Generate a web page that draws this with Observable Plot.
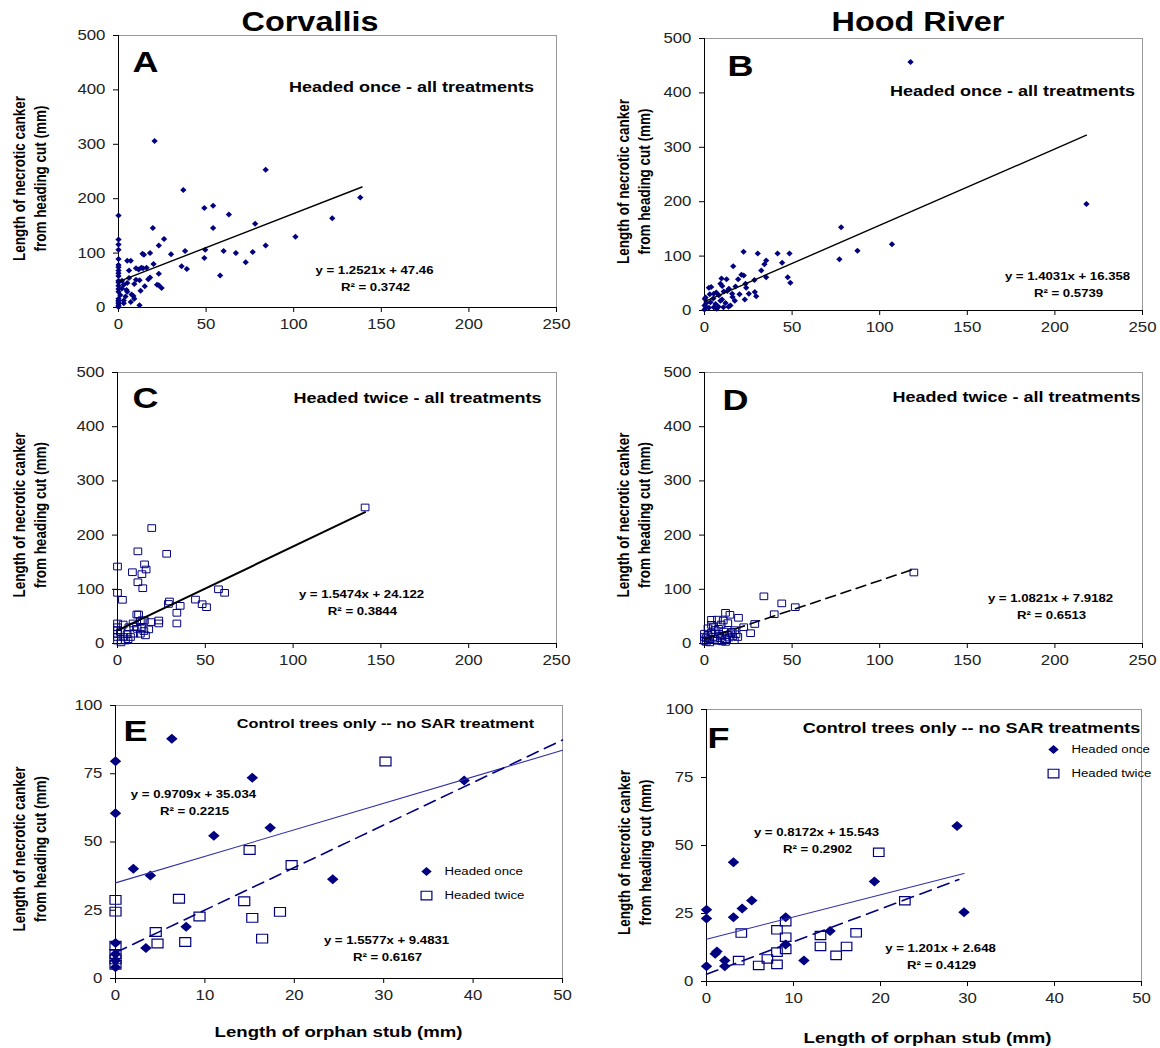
<!DOCTYPE html>
<html><head><meta charset="utf-8">
<script src="https://cdn.jsdelivr.net/npm/d3@7"></script>
<script src="https://cdn.jsdelivr.net/npm/@observablehq/plot@0.6"></script>
<style>
body{margin:0;background:#fff;}
#root{position:relative;width:1160px;height:1048px;overflow:hidden;font-family:'Liberation Sans',Arial,sans-serif;}
.col{position:absolute;font-weight:bold;font-size:27px;transform:translate(-50%,-50%) scaleX(1.2);white-space:nowrap;color:#000;}
svg{position:absolute;}
</style></head><body><div id="root"></div>
<script>
// ---------- data ----------
const columnTitles = ["Corvallis", "Hood River"];
const ticks500 = [0, 100, 200, 300, 400, 500];
const ticks250 = [0, 50, 100, 150, 200, 250];
const ticks100 = [0, 25, 50, 75, 100];
const ticks50 = [0, 10, 20, 30, 40, 50];
const seriesNames = ["Headed once", "Headed twice"];

// A: Corvallis, headed once
const aOnce = [[20.6,306],[84,253],[37,216],[138,202],[49,183],[54,187],[63,171],[0,169],[122,164],[78,154],[19.6,146],[54,146],[26,126],[101,130],[0,125],[23,114],[84,114],[0,116],[0,106],[30,98],[38,104],[49.5,106],[60,104],[67,100],[76.6,102],[49,91],[72.6,83],[36,76],[39,71],[58,59],[13.7,99],[14.5,97],[18,100],[5,86],[7,86],[0,89],[20,80],[16,73],[14,72],[10,72],[11.5,70],[13,73],[6,68],[0,78],[0,74],[0,68],[0,63],[23,62],[18,55],[17,52],[10,51],[12,50],[6,54],[0,58],[0,49],[0,46],[22,42],[23,41],[24.6,36],[15,39],[9,43],[3,42],[4.6,32],[5,29],[7.5,24],[8.5,21],[12.6,31],[0,40],[0,34],[0,29],[3,13],[0,16],[0,13],[0,10],[0,7],[7,10],[12,4],[1,23],[2,49],[0,3],[0,1],[4,20],[2,35],[5,45],[3,8],[9,16]];
// B: Hood River, headed once
const bOnce = [[117.6,457],[218,196],[78,153],[107,122],[87.3,110],[77,94],[22.3,108],[30.4,105],[41.7,105],[48.5,105],[44.3,88],[35.2,92],[34.2,85],[32.4,73.5],[16.4,81.5],[21.1,65.5],[22.4,64.5],[35.2,61],[47.5,61],[49,51],[19.2,57.5],[28.5,56],[9.7,59],[12.6,57.5],[3.8,43],[2.5,42],[9.1,49],[10.1,45],[17.7,44],[23.4,49],[23.8,42],[25.3,31],[28.7,34],[29.5,26],[23,20],[13.9,40],[13,36],[15.8,31],[6.7,33],[8.2,28],[5.3,31],[0.6,24],[0.2,21],[3.4,15],[6.3,12],[9.1,18],[12,14],[14.8,9],[17.3,18],[0,9],[1,6],[2.5,5],[5.3,6],[8,7],[10.8,6],[13.7,7],[3,30],[10,20],[5,22],[11,35],[16,25],[20,30],[1,14],[7,3],[0,2]];
// C: Corvallis, headed twice
const cTwice = [[141,251],[19.5,213],[11.6,170],[28,165.5],[0,142],[15.4,146],[16.3,136.5],[8.5,131.5],[13.9,128],[11.6,113],[14.4,102],[0,93.5],[2.8,80.6],[29.6,77.5],[29,73],[57.5,100],[61,93.5],[44.4,81],[48.2,72.5],[50.7,67],[35.7,69.5],[33.8,56.6],[33.8,37],[11,53.5],[12,53.5],[23.5,42.4],[23.5,37],[19,39.5],[15.3,42],[14,43],[13,41],[0,37],[3.2,35],[8.9,37],[9.3,31],[6.5,30],[11.2,27],[14,28],[15,23],[13,18],[15.9,15],[17.8,26],[0,30],[0,24],[0,18],[0,12],[0,5.5],[1.7,21],[3.6,12],[4.5,5.5],[5.5,17],[7.4,12],[9.3,18],[2,2],[6,8]];
// D: Hood River, headed twice
const dTwice = [[119.5,131],[33.9,87],[44.1,74],[51.8,67],[39.8,54],[28.7,36],[26.3,19],[12,56.6],[14.5,53],[19.4,47.4],[4,43.7],[7.4,44],[10.7,42.4],[13.3,37.5],[4,34.4],[9.5,35],[22.4,30],[17.3,24.6],[15.8,21.5],[0,5],[1,10],[2,15],[3,8],[4,20],[5,12],[6,25],[7,5],[8,18],[9,10],[10,14],[11,22],[12,8],[13,16],[14,11],[15,19],[16,13],[18,17],[2,28],[5,30],[8,27],[0,18],[1,3],[3,2],[6,9],[10,4],[0,12],[12,3],[17,6],[19,12]];
// E: Corvallis control trees
const eOnce = [[6.3,87.8],[0,79.6],[15.3,73.5],[0,60.5],[17.3,55.2],[11,52.3],[2,40.2],[3.9,37.7],[24.3,36.4],[7.9,19],[3.4,11.2],[0,13],[0,9],[0,6.6],[0,4.1],[39,72.5]];
const eTwice = [[30.2,79.5],[15,47.1],[19.7,41.6],[0,28.8],[0,24.5],[7.1,29.2],[14.4,28.3],[18.4,24.4],[9.4,22.7],[15.3,22.2],[4.5,17],[4.7,12.8],[7.8,13.4],[16.4,14.6],[0,12],[0,9],[0,7],[0,5]];
// F: Hood River control trees
const fOnce = [[28.8,57.2],[3.1,43.8],[19.3,36.8],[5.2,29.8],[4.1,26.8],[3.1,23.6],[0,26.4],[0,23.2],[9.1,23.6],[29.6,25.5],[14.2,18.6],[9.1,13.6],[1,10.2],[1.2,11],[2.1,7.7],[2.1,5.6],[0,5.6],[11.2,7.7]];
const fTwice = [[19.8,47.5],[22.8,29.7],[9.1,22],[8.1,19],[4,17.8],[9.1,16.3],[13.1,16.9],[17.2,17.9],[13.1,12.9],[16.1,12.9],[9.1,11.8],[8.1,10.8],[14.9,9.6],[3.7,7.7],[7,8.3],[6,5.9],[8.1,6.3]];

// trendlines as printed on the chart: [slope, intercept, xStart, xEnd]
const trendA = [1.2521, 47.46, 0, 139];
const trendB = [1.4031, 16.358, 0, 218];
const trendC = [1.5474, 24.122, 0, 141];
const trendD = [1.0821, 7.9182, 0, 119.5];
const trendEOnce = [0.9709, 35.034, 0, 50];
const trendETwice = [1.5577, 9.4831, 0, 50];
const trendFOnce = [0.8172, 15.543, 0, 29.6];
const trendFTwice = [1.201, 2.648, 0, 29];

const panelLetters = ["A", "B", "C", "D", "E", "F"];
const panelTitles = ["Headed once - all treatments", "Headed once - all treatments", "Headed twice - all treatments", "Headed twice - all treatments", "Control trees only -- no SAR treatment", "Control trees only -- no SAR treatments"];
const equations = {
  A: [["y = 1.2521x + 47.46", "R² = 0.3742"]],
  B: [["y = 1.4031x + 16.358", "R² = 0.5739"]],
  C: [["y = 1.5474x + 24.122", "R² = 0.3844"]],
  D: [["y = 1.0821x + 7.9182", "R² = 0.6513"]],
  E: [["y = 0.9709x + 35.034", "R² = 0.2215"], ["y = 1.5577x + 9.4831", "R² = 0.6167"]],
  F: [["y = 0.8172x + 15.543", "R² = 0.2902"], ["y = 1.201x + 2.648", "R² = 0.4129"]]
};
const yTitle = "Length of necrotic canker\nfrom heading cut (mm)";
const xTitle = "Length of orphan stub (mm)";

// ---------- styling ----------
const NAVY = "#000080";
const FONT = "'Liberation Sans', Arial, sans-serif";
const STRETCH = 1.2;
function shape(kind, ax, ay) {
  return {draw(ctx, size) {
    const r = Math.sqrt(size / Math.PI), w = r * ax, h = r * ay;
    if (kind === "diamond") { ctx.moveTo(0, -h); ctx.lineTo(w, 0); ctx.lineTo(0, h); ctx.lineTo(-w, 0); ctx.closePath(); }
    else { ctx.moveTo(-w, -h); ctx.lineTo(w, -h); ctx.lineTo(w, h); ctx.lineTo(-w, h); ctx.closePath(); }
  }};
}
const smallDiamond = shape("diamond", 1.05, 1);
const bigDiamond = shape("diamond", 1.15, 1);
const smallSquare = shape("square", 1.1, 0.95);
const bigSquare = shape("square", 1.2, 0.95);

function trendLine(t, opts) {
  const [m, b, x0, x1] = t;
  return Plot.line([[x0, m * x0 + b], [x1, m * x1 + b]], {x: d => d[0], y: d => d[1], ...opts});
}
function label(str, dx, dy, o = {}) {
  return Plot.text([str], {text: d => d, frameAnchor: o.anchor || "top-left", dx, dy,
    textAnchor: o.textAnchor || "middle", lineAnchor: "middle", fontSize: o.size || 11,
    fontWeight: o.weight || "bold", fill: "#000", rotate: o.rotate || 0, lineHeight: o.lineHeight || 1});
}

const root = document.getElementById("root");
columnTitles.forEach((t, i) => {
  const d = document.createElement("div");
  d.className = "col"; d.textContent = t;
  d.style.left = (i === 0 ? 310 : 918) + "px"; d.style.top = "22px";
  root.appendChild(d);
});

function panel(p) {
  const mL = 120, mR = 30, mT = 15, mB = p.xTitle ? 75 : 40;
  const width = p.R - p.L + mL + mR, height = p.B - p.T + mT + mB;
  const marks = [
    Plot.frame({stroke: "#999"}),
    Plot.axisX({ticks: p.xTicks, tickSize: 5, tickPadding: 7, label: null, stroke: "#000", fill: "#222"}),
    Plot.axisY({ticks: p.yTicks, tickSize: 5, tickPadding: 8, label: null, stroke: "#000", fill: "#222"}),
    Plot.ruleX([0], {stroke: "#000"}),
    Plot.ruleY([0], {stroke: "#000"}),
    ...p.marks,
    label(panelLetters[p.i], p.letter[0], p.letter[1], {size: 30}),
    label(panelTitles[p.i], p.title[0], p.title[1], {size: p.titleSize || 15}),
    label(yTitle, p.yTitleDx, 7, {anchor: "left", size: 13.5, rotate: -90, lineHeight: 1.28}),
  ];
  const eqs = equations[panelLetters[p.i]];
  eqs.forEach((e, k) => {
    const [dx, dy] = p.eq[k];
    marks.push(label(e[0], dx, dy), label(e[1], dx + 1, dy + 17));
  });
  if (p.legend) {
    const [dx, dy] = p.legend;
    marks.push(
      Plot.dot([0], {frameAnchor: "top-left", dx, dy, r: 4.5, symbol: bigDiamond, fill: NAVY, stroke: "none"}),
      Plot.dot([0], {frameAnchor: "top-left", dx, dy: dy + 24, r: 4.5, symbol: bigSquare, fill: "none", stroke: NAVY, strokeWidth: 1.2}),
      label(seriesNames[0], dx + 18, dy, {textAnchor: "start", weight: "normal"}),
      label(seriesNames[1], dx + 18, dy + 24, {textAnchor: "start", weight: "normal"})
    );
  }
  if (p.xTitle) marks.push(label(xTitle, p.xTitle[0], p.xTitle[1], {anchor: "bottom-left", size: 15.5}));
  const svg = Plot.plot({
    width, height, marginLeft: mL, marginRight: mR, marginTop: mT, marginBottom: mB,
    x: {domain: p.xDomain}, y: {domain: p.yDomain},
    style: {fontFamily: FONT, fontSize: "14px", background: "transparent", color: "#222", overflow: "visible"},
    marks
  });
  svg.style.left = (p.L - mL) + "px";
  svg.style.top = (p.T - mT) + "px";
  root.appendChild(svg);
  return svg;
}

const X = d => d[0], Y = d => d[1];
const svgs = [
  panel({i: 0, L: 118, R: 556, T: 35, B: 307, xDomain: [0, 250], yDomain: [0, 500], xTicks: ticks250, yTicks: ticks500,
    letter: [27, 27], title: [293, 52], eq: [[256, 235]], yTitleDx: -89.5,
    marks: [Plot.dot(aOnce, {x: X, y: Y, r: 3, symbol: smallDiamond, fill: NAVY, stroke: "none"}),
            trendLine(trendA, {stroke: "#000", strokeWidth: 1.4})]}),
  panel({i: 1, L: 704, R: 1142, T: 38, B: 310, xDomain: [0, 250], yDomain: [0, 500], xTicks: ticks250, yTicks: ticks500,
    letter: [36, 28], title: [308, 53], eq: [[363, 238]], yTitleDx: -71.5,
    marks: [Plot.dot(bOnce, {x: X, y: Y, r: 3, symbol: smallDiamond, fill: NAVY, stroke: "none"}),
            trendLine(trendB, {stroke: "#000", strokeWidth: 1.4})]}),
  panel({i: 2, L: 117, R: 556, T: 372, B: 643, xDomain: [0, 250], yDomain: [0, 500], xTicks: ticks250, yTicks: ticks500,
    letter: [28, 26], title: [300, 26], eq: [[244, 222]], yTitleDx: -88.5,
    marks: [Plot.dot(cTwice, {x: X, y: Y, r: 3.5, symbol: smallSquare, fill: "none", stroke: NAVY, strokeWidth: 1}),
            trendLine(trendC, {stroke: "#000", strokeWidth: 2})]}),
  panel({i: 3, L: 704, R: 1142, T: 372, B: 643, xDomain: [0, 250], yDomain: [0, 500], xTicks: ticks250, yTicks: ticks500,
    letter: [31, 28], title: [312, 25], eq: [[346, 226]], yTitleDx: -71.5,
    marks: [Plot.dot(dTwice, {x: X, y: Y, r: 3.5, symbol: smallSquare, fill: "none", stroke: NAVY, strokeWidth: 1}),
            trendLine(trendD, {stroke: "#000", strokeWidth: 1.6, strokeDasharray: "10,6"})]}),
  panel({i: 4, L: 115, R: 562, T: 705, B: 978, xDomain: [0, 50], yDomain: [0, 100], xTicks: ticks50, yTicks: ticks100,
    letter: [20, 26], title: [270, 18], titleSize: 13.6, eq: [[78, 89], [271, 235]], yTitleDx: -86.5, legend: [311, 166], xTitle: [223, 54],
    marks: [Plot.dot(eOnce, {x: X, y: Y, r: 5, symbol: bigDiamond, fill: NAVY, stroke: "none"}),
            Plot.dot(eTwice, {x: X, y: Y, r: 4.6, symbol: bigSquare, fill: "none", stroke: NAVY, strokeWidth: 1.2}),
            trendLine(trendEOnce, {stroke: "#2e2ea6", strokeWidth: 1.1}),
            trendLine(trendETwice, {stroke: NAVY, strokeWidth: 1.6, strokeDasharray: "12,7"})]}),
  panel({i: 5, L: 706, R: 1141, T: 709, B: 981, xDomain: [0, 50], yDomain: [0, 100], xTicks: ticks50, yTicks: ticks100,
    letter: [12, 29], title: [265, 19], eq: [[110, 123], [234, 239]], yTitleDx: -72.5, legend: [347, 40], xTitle: [221, 57],
    marks: [Plot.dot(fOnce, {x: X, y: Y, r: 5, symbol: bigDiamond, fill: NAVY, stroke: "none"}),
            Plot.dot(fTwice, {x: X, y: Y, r: 4.4, symbol: bigSquare, fill: "none", stroke: NAVY, strokeWidth: 1.2}),
            trendLine(trendFOnce, {stroke: "#2e2ea6", strokeWidth: 1.1}),
            trendLine(trendFTwice, {stroke: NAVY, strokeWidth: 1.6, strokeDasharray: "12,7"})]})
];

// horizontally widen text to match the reference's stretched lettering
function stretch(svg, k) {
  const texts = Array.from(svg.querySelectorAll("text"));
  texts.forEach(t => {
    const r = t.getBoundingClientRect();
    const parent = t.parentNode;
    const m = parent.getScreenCTM();
    const anchor = getComputedStyle(t).textAnchor;
    const rotated = (t.getAttribute("transform") || "").includes("rotate");
    let sx = anchor === "end" ? r.right : anchor === "start" ? r.left : r.left + r.width / 2;
    if (rotated) sx = r.left + r.width / 2;
    const lx = (sx - m.e) / m.a;
    const g = document.createElementNS("http://www.w3.org/2000/svg", "g");
    g.setAttribute("transform", `translate(${lx},0) scale(${k},1) translate(${-lx},0)`);
    parent.insertBefore(g, t);
    g.appendChild(t);
  });
}
svgs.forEach(s => stretch(s, STRETCH));
</script></body></html>
